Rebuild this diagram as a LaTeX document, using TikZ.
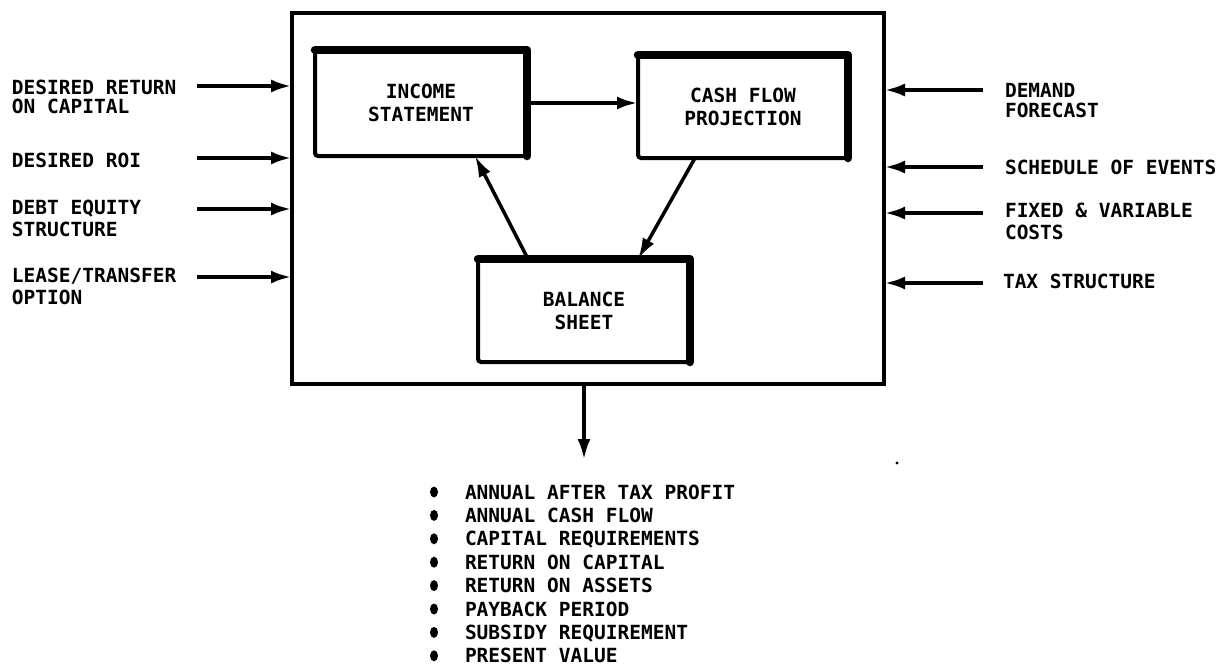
\documentclass[tikz,border=0pt]{standalone}
\usepackage{fontspec}
\newfontfamily\mono{DejaVu Sans Mono}
\usetikzlibrary{arrows.meta,calc}
\begin{document}
\begin{tikzpicture}[x=1pt,y=-1pt,
  every node/.style={inner sep=0pt, outer sep=0pt},
  lbl/.style={font=\mono\bfseries\fontsize{19.5}{22}\selectfont, align=left, anchor=north west},
  item/.style={font=\mono\bfseries\fontsize{19.5}{22}\selectfont, anchor=west, text height=14.2pt, text depth=0pt},
  boxtxt/.style={font=\mono\bfseries\fontsize{19.5}{23}\selectfont, align=center},
  frame/.style={draw, line width=4pt},
  block/.style={draw, line width=4pt, rounded corners=3pt, boxtxt},
  heavy/.style={line width=8.5pt, line cap=round, line join=round},
  tip/.style={-{Latex[length=21pt,width=13pt]}},
  feed/.style={tip, line width=4.5pt},
  link/.style={tip, line width=4pt},
]
\useasboundingbox (0,0) rectangle (1226,667);

% enclosing model frame
\node[frame, minimum width=592pt, minimum height=371pt] (sys) at (588,198.5) {};

% the three statements
\node[block, minimum width=212pt, minimum height=106pt] (inc) at (421,103) {INCOME\\STATEMENT};
\node[block, minimum width=210pt, minimum height=103pt] (cash) at (743,106.5) {CASH FLOW\\PROJECTION};
\node[block, minimum width=212pt, minimum height=103pt] (bal) at (584,310.5) {BALANCE\\SHEET};
\foreach \b in {inc,cash,bal}
  \draw[heavy] (\b.south east) -- (\b.north east) -- (\b.north west);

% flows between statements
\draw[link] (inc.east) -- (inc.east -| cash.west);
\draw[link, line width=3.5pt] ($(bal.north west)+(50,0)$) -- ($(inc.south west)+(160,0)$);
\draw[link, line width=3.5pt] ($(cash.south west)+(57,0)$) -- ($(bal.north west)+(160,0)$);

% financial inputs (left)
\node[lbl, font=\mono\bfseries\fontsize{19.5}{19}\selectfont] (in1) at (12,80) {DESIRED RETURN\\ON CAPITAL};
\node[lbl] (in2) at (12,153) {DESIRED ROI};
\node[lbl] (in3) at (12,200) {DEBT EQUITY\\STRUCTURE};
\node[lbl] (in4) at (12,268) {LEASE/TRANSFER\\OPTION};
\coordinate (l1) at (197,86);
\coordinate (l2) at (197,158);
\coordinate (l3) at (197,209);
\coordinate (l4) at (197,277);
\foreach \c in {l1,l2,l3,l4}
  \draw[feed] (\c) -- (\c -| sys.west);

% operating inputs (right)
\node[lbl, font=\mono\bfseries\fontsize{19.5}{20}\selectfont] (ex1) at (1005,83) {DEMAND\\FORECAST};
\node[lbl] (ex2) at (1005,160) {SCHEDULE OF EVENTS};
\node[lbl] (ex3) at (1005,203) {FIXED \& VARIABLE\\COSTS};
\node[lbl] (ex4) at (1003,274) {TAX STRUCTURE};
\coordinate (r1) at (983,90);
\coordinate (r2) at (983,167);
\coordinate (r3) at (983,213);
\coordinate (r4) at (983,283);
\foreach \c in {r1,r2,r3,r4}
  \draw[feed] (\c) -- (\c -| sys.east);

% outputs
\coordinate (res) at (584,460);
\draw[link] (res |- sys.south) -- (res);
\foreach \txt [count=\i] in {ANNUAL AFTER TAX PROFIT, ANNUAL CASH FLOW,
    CAPITAL REQUIREMENTS, RETURN ON CAPITAL, RETURN ON ASSETS,
    PAYBACK PERIOD, SUBSIDY REQUIREMENT, PRESENT VALUE} {
  \node[item] (o\i) at (465,{492+23.4*(\i-1)}) {\txt};
  \fill ($(o\i.west)+(-31,0)$) ellipse [x radius=4, y radius=5.5];
}
\fill (897,463) circle [radius=1.6];
\end{tikzpicture}
\end{document}
